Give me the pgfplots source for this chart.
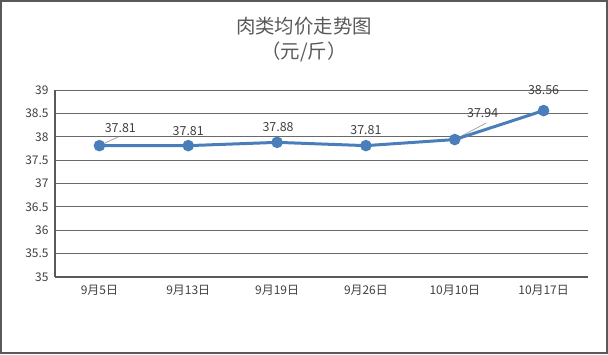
\documentclass[border=0pt]{standalone}
\usepackage{fontspec}
\setmainfont{Noto Sans CJK SC}
\usepackage{pgfplots}
\usepackage{pgfplotstable}
\pgfplotsset{compat=1.18}
\definecolor{linec}{HTML}{4A7EBB}
\definecolor{txt}{HTML}{404040}
\definecolor{axc}{HTML}{595959}
\definecolor{gridc}{HTML}{6A6A6A}
\definecolor{leadc}{HTML}{A6A6A6}
\pgfplotstableread{
x y dx dy
0 37.81 21 18
1 37.81 0 15
2 37.88 1 15
3 37.81 0 16
4 37.94 28 27
5 38.56 0 21
}\meat
\begin{document}
\begin{tikzpicture}[x=1bp,y=1bp]
\draw[axc, line width=2bp] (1,1) rectangle (607,353);
\node[font=\fontsize{19.5}{19.5}\selectfont, text=axc] at (304,328) {肉类均价走势图};
\node[font=\fontsize{19.5}{19.5}\selectfont, text=axc] at (304,302) {（元/斤）};
\begin{axis}[
  at={(55bp,77bp)}, anchor=south west,
  scale only axis, width=533bp, height=187bp,
  xmin=-0.5, xmax=5.5, ymin=35, ymax=39,
  axis lines*=left,
  axis line style={draw=axc, line width=1.8bp},
  ytick={35,35.5,36,36.5,37,37.5,38,38.5,39},
  ymajorgrids, grid style={draw=gridc, line width=0.9bp},
  xtick={0,1,2,3,4,5},
  xticklabels={9月5日,9月13日,9月19日,9月26日,10月10日,10月17日},
  xtick style={draw=none}, ytick style={draw=none},
  extra x ticks={-0.5,0.5,1.5,2.5,3.5,4.5,5.5},
  extra x tick labels={},
  extra x tick style={major tick length=6bp, tick align=outside, tick style={draw=axc, line width=1.8bp}},
  tick label style={font=\fontsize{12}{12}\selectfont, text=txt},
  /pgf/number format/assume math mode=true,
  yticklabel style={xshift=-3bp},
  xticklabel style={yshift=-5bp},
  clip=false,
]
\addplot[leadc, line width=0.8bp, forget plot] coordinates {(0,37.81) (0.21,37.995)};
\addplot[leadc, line width=0.8bp, forget plot] coordinates {(4,37.94) (4.35,38.29)};
\addplot[linec, line width=3bp, mark=*, mark size=4.2bp, mark options={fill=linec, draw=linec},
  visualization depends on={\thisrow{dx} \as \dx},
  visualization depends on={\thisrow{dy} \as \dy},
  point meta=\thisrow{y},
  nodes near coords={\pgfmathprintnumber[fixed,precision=2,fixed zerofill]{\pgfplotspointmeta}},
  every node near coord/.append style={anchor=center, xshift=\dx, yshift=\dy, text=txt, font=\fontsize{12.5}{12.5}\selectfont, /pgf/number format/assume math mode=true},
] table[x=x,y=y] {\meat};
\end{axis}
\end{tikzpicture}
\end{document}
